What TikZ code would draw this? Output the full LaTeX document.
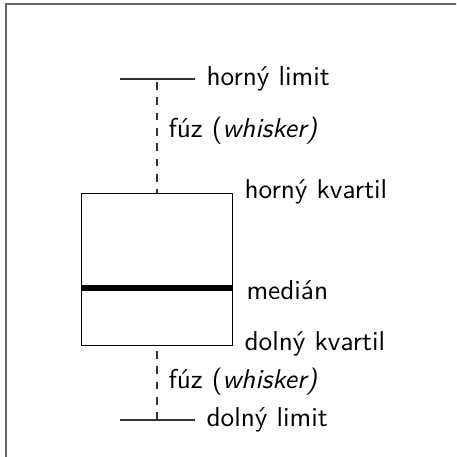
\documentclass[tikz,border=0pt]{standalone}
\begin{document}
\begin{tikzpicture}[x=0.392pt,y=-0.392pt,
  lbl/.style={anchor=west,inner sep=0pt,font=\sffamily\fontsize{10.7}{12.8}\selectfont},
  limitline/.style={draw=black!80,line width=0.4pt},
  whiskerline/.style={draw=black!80,dashed,line width=0.4pt},
  boxline/.style={draw=black,line width=0.4pt},
  medianline/.style={draw=black,line width=2pt},
  frameline/.style={draw=black!60,line width=0.7pt}]
\useasboundingbox (0,0) rectangle (456,457);
% outer frame, only its top and left sides fall inside the page
\begin{scope}
\clip (0,0) rectangle (456,457);
\draw[frameline] (6,470) -- (6,4) -- (470,4);
\end{scope}
% upper whisker
\coordinate (ul-l) at (120,79);
\coordinate (ul-r) at (195,79);
\coordinate (ul-m) at (157,79);
\draw[limitline] (ul-l) -- (ul-r);
% box between the quartiles
\node[boxline,inner sep=0pt,anchor=north west,
  minimum width=59.2pt,minimum height=59.6pt] (box) at (81,193) {};
\coordinate (med-l) at (81,288);
\coordinate (med-r) at (232,288);
\draw[medianline] (med-l) -- (med-r);
\coordinate (bx-t) at (157,193);
\coordinate (bx-b) at (157,344);
\draw[whiskerline,dash phase=1.5pt] (bx-t) -- (ul-m);
% lower whisker
\coordinate (ll-l) at (120,420);
\coordinate (ll-r) at (195,420);
\coordinate (ll-m) at (157,420);
\draw[limitline] (ll-l) -- (ll-r);
\draw[whiskerline] (ll-m) -- (bx-b);
% labels
\node[lbl] (t1) at (206,79) {horný limit};
\node[lbl] (t2) at (168,131) {fúz (\textit{whisker)}};
\node[lbl] (t3) at (244,192) {horný kvartil};
\node[lbl] (t4) at (246,290) {medián};
\node[lbl] (t5) at (244,344) {dolný kvartil};
\node[lbl] (t6) at (168,382) {fúz (\textit{whisker)}};
\node[lbl] (t7) at (206,420) {dolný limit};
\end{tikzpicture}
\end{document}
